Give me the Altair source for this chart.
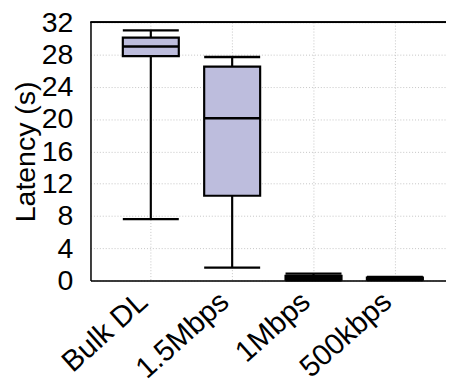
import altair as alt
import pandas as pd

categories = ["Bulk DL", "1.5Mbps", "1Mbps", "500kbps"]
whisker_low = [7.6, 1.6, 0.02, 0.05]
q1 = [27.8, 10.5, 0.1, 0.12]
median = [29.0, 20.1, 0.3, 0.25]
q3 = [30.1, 26.5, 0.57, 0.38]
whisker_high = [31.0, 27.7, 0.85, 0.45]
y_ticks = [0, 4, 8, 12, 16, 20, 24, 28, 32]

df = pd.DataFrame({
    "cat": categories,
    "pos": list(range(1, len(categories) + 1)),
    "lo": whisker_low,
    "q1": q1,
    "med": median,
    "q3": q3,
    "hi": whisker_high,
})

FONT = "Liberation Sans"
FS = 29
XFS = 30
BOXW = 57
H = 263
xscale = alt.Scale(domain=[0.319, 4.568], nice=False, zero=False)
yscale = alt.Scale(domain=[0, 32], nice=False, zero=False)

label_expr = "[" + ",".join("'" + c + "'" for c in categories) + "][datum.value - 1]"

grid_kw = dict(grid=True, gridColor="#c4c4c4", gridDash=[1, 2], gridWidth=1,
               domain=True, domainColor="black", domainWidth=1.5, ticks=False,
               labelOverlap=False, labelFlush=False, labelBound=False,
               labelFont=FONT, labelColor="black")

xaxis = alt.Axis(values=list(range(1, len(categories) + 1)), labelExpr=label_expr,
                 labelAngle=-42, labelAlign="right", labelBaseline="middle",
                 labelFontSize=XFS, labelPadding=17, labelOffset=-8, title=None, **grid_kw)
yaxis = alt.Axis(values=y_ticks, labelFontSize=FS, labelPadding=18, title="Latency (s)",
                 titleFontSize=FS, titleFont=FONT, titleFontWeight="normal",
                 titleColor="black", titleX=-51, titleY=H / 2, **grid_kw)

X = alt.X("pos:Q", scale=xscale, axis=xaxis)

def Y(field):
    return alt.Y(field + ":Q", scale=yscale, axis=yaxis)

base = alt.Chart(df)

wl = base.mark_rule(color="black", strokeWidth=2.2).encode(x=X, y=Y("lo"), y2="q1:Q")
wh = base.mark_rule(color="black", strokeWidth=2.2).encode(x=X, y=Y("q3"), y2="hi:Q")

border = base.mark_rule(color="black", strokeWidth=1.5).encode(
    y=alt.YDatum(32, scale=yscale, axis=yaxis, type="quantitative"))

box = base.mark_bar(size=BOXW, fill="#bdbddd", stroke="black", strokeWidth=2.2).encode(
    x=X, y=Y("q1"), y2="q3:Q")

def tick(field):
    return base.mark_tick(orient="horizontal", size=BOXW, thickness=2.4, color="black",
                          opacity=1).encode(x=X, y=Y(field))

chart = alt.layer(wl, wh, border, box, tick("med"), tick("lo"), tick("hi")).properties(
    width=362, height=H,
    autosize=alt.AutoSizeParams(type="none"),
    padding={"left": 84, "top": 11, "right": 0, "bottom": 110},
).configure_view(stroke=None).configure(background="white")

chart.save("out.html", embed_options={"renderer": "svg", "actions": False})
